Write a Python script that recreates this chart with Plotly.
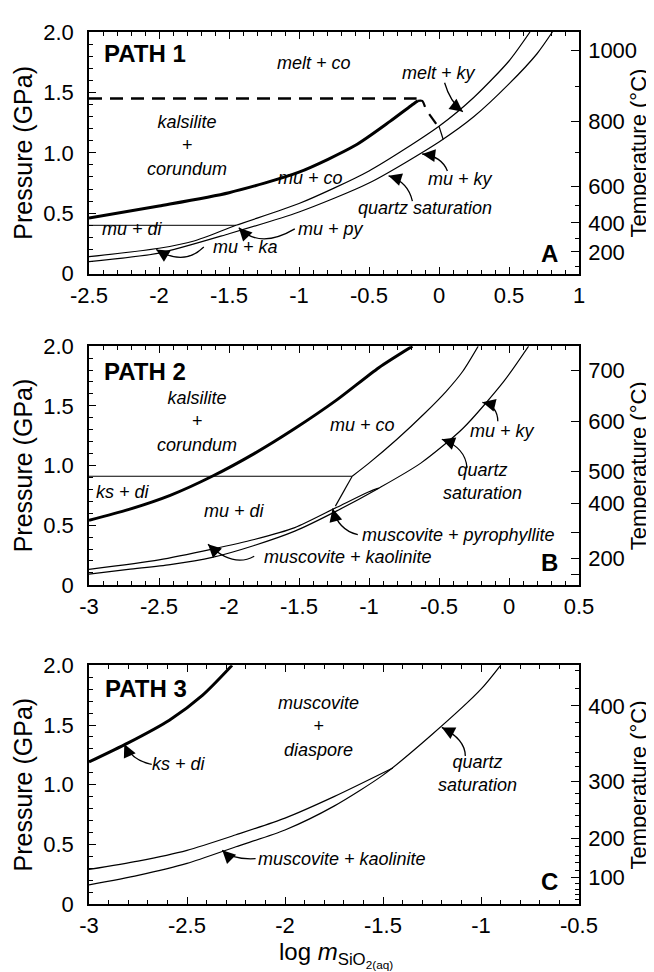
import math
import plotly.graph_objects as go

FONT = "Liberation Sans"

# ---------------- shared tick labels ----------------
P_TICKS = [0, 0.5, 1.0, 1.5, 2.0]
P_TICKTEXT = ["0", "0.5", "1.0", "1.5", "2.0"]

# ---------------- Panel A (PATH 1) ----------------
A_XTICKS = [-2.5, -2, -1.5, -1, -0.5, 0, 0.5, 1]
A_XTICKTEXT = ["-2.5", "-2", "-1.5", "-1", "-0.5", "0", "0.5", "1"]
A_T_LABEL_P = [1.85, 1.26, 0.72, 0.42, 0.18]
A_T_LABELS = ["1000", "800", "600", "400", "200"]
A_T_MINOR_P = [1.55, 1.00, 0.56, 0.29, 0.06]

A_kc_x = [-2.5, -2.0, -1.5, -1.0, -0.6, -0.35, -0.2, -0.15]
A_kc_p = [0.46, 0.56, 0.67, 0.84, 1.06, 1.26, 1.39, 1.43]
A_kink_x = [-0.15, -0.12, -0.10]
A_kink_p = [1.43, 1.43, 1.38]
A_melt_dash_x = [-2.5, -0.16]
A_melt_dash_p = [1.45, 1.45]
A_melt_dash2_x = [-0.07, -0.02]
A_melt_dash2_p = [1.32, 1.24]
A_melt_ky_x = [0.0, 0.03]
A_melt_ky_p = [1.22, 1.11]
A_di_x = [-2.5, -1.45]
A_di_p = [0.40, 0.40]
A_up_x = [-2.5, -2.0, -1.75, -1.45, -1.0, -0.5, 0.0, 0.25, 0.5, 0.65]
A_up_p = [0.14, 0.21, 0.27, 0.40, 0.58, 0.85, 1.22, 1.46, 1.76, 2.0]
A_qz_x = [-2.5, -2.0, -1.5, -1.0, -0.5, 0.0, 0.25, 0.5, 0.7, 0.81]
A_qz_p = [0.10, 0.17, 0.33, 0.51, 0.75, 1.09, 1.30, 1.57, 1.82, 2.0]

# ---------------- Panel B (PATH 2) ----------------
B_XTICKS = [-3, -2.5, -2, -1.5, -1, -0.5, 0, 0.5]
B_XTICKTEXT = ["-3", "-2.5", "-2", "-1.5", "-1", "-0.5", "0", "0.5"]
B_T_TICK_P = [1.80, 1.37, 0.95, 0.68, 0.44, 0.22, 0.09]
B_T_TICKTEXT = ["700", "600", "500", "400", "", "200", ""]

B_kc_x = [-3, -2.72, -2.42, -2.12, -1.82, -1.53, -1.23, -0.93, -0.69]
B_kc_p = [0.54, 0.63, 0.75, 0.91, 1.10, 1.31, 1.55, 1.82, 2.0]
B_hz_x = [-3, -1.12]
B_hz_p = [0.91, 0.91]
B_diag_x = [-1.12, -1.24]
B_diag_p = [0.91, 0.66]
B_coky_x = [-1.12, -1.0, -0.8, -0.6, -0.45, -0.33, -0.22]
B_coky_p = [0.91, 1.02, 1.22, 1.44, 1.62, 1.79, 2.0]
B_qz_x = [-3, -2.72, -2.42, -2.12, -1.82, -1.53, -1.23, -0.93, -0.63, -0.33, -0.04, 0.14]
B_qz_p = [0.09, 0.13, 0.17, 0.23, 0.33, 0.45, 0.62, 0.81, 1.02, 1.31, 1.70, 2.0]
B_up_x = [-3, -2.5, -2.12, -1.82, -1.53, -1.23, -1.0, -0.93]
B_up_p = [0.13, 0.21, 0.30, 0.38, 0.48, 0.65, 0.78, 0.81]

# ---------------- Panel C (PATH 3) ----------------
C_XTICKS = [-3, -2.5, -2, -1.5, -1, -0.5]
C_XTICKTEXT = ["-3", "-2.5", "-2", "-1.5", "-1", "-0.5"]
C_T_LABEL_P = [1.66, 1.03, 0.55, 0.22]
C_T_LABELS = ["400", "300", "200", "100"]
C_T_MINOR_P = [1.96, 1.81, 1.52, 1.40, 1.27, 1.15, 0.93, 0.84, 0.74, 0.65,
               0.48, 0.41, 0.35, 0.28, 0.17, 0.12, 0.08, 0.04]

C_kd_x = [-3, -2.8, -2.59, -2.42, -2.27]
C_kd_p = [1.19, 1.35, 1.54, 1.75, 2.0]
C_up_x = [-3, -2.75, -2.5, -2.25, -2.0, -1.75, -1.45]
C_up_p = [0.29, 0.36, 0.45, 0.58, 0.72, 0.90, 1.14]
C_qz_x = [-3, -2.75, -2.5, -2.25, -2.0, -1.75, -1.5, -1.25, -1.0, -0.9]
C_qz_p = [0.16, 0.24, 0.34, 0.48, 0.62, 0.82, 1.08, 1.42, 1.80, 2.0]

fig = go.Figure()


def line(x, y, xa, ya, width=1.2, dash=None, spline=True):
    fig.add_trace(go.Scatter(
        x=x, y=y, xaxis=xa, yaxis=ya, mode="lines",
        line=dict(color="black", width=width, dash=dash,
                  shape="spline" if spline else "linear", smoothing=0.7),
        hoverinfo="skip", showlegend=False))


# Panel A
line(A_kc_x, A_kc_p, "x", "y", width=3)
line(A_kink_x, A_kink_p, "x", "y", width=2.2)
line(A_melt_dash_x, A_melt_dash_p, "x", "y", width=2.4, dash="13px,8px", spline=False)
line(A_melt_dash2_x, A_melt_dash2_p, "x", "y", width=2.2, spline=False)
line(A_melt_ky_x, A_melt_ky_p, "x", "y", width=1.2, spline=False)
line(A_di_x, A_di_p, "x", "y", width=1.0, spline=False)
line(A_up_x, A_up_p, "x", "y")
line(A_qz_x, A_qz_p, "x", "y")
fig.add_trace(go.Scatter(x=[None], y=[None], xaxis="x", yaxis="y4", showlegend=False))

# Panel B
line(B_kc_x, B_kc_p, "x2", "y2", width=3)
line(B_hz_x, B_hz_p, "x2", "y2", width=1.2, spline=False)
line(B_diag_x, B_diag_p, "x2", "y2", width=1.2, spline=False)
line(B_coky_x, B_coky_p, "x2", "y2")
line(B_qz_x, B_qz_p, "x2", "y2")
line(B_up_x, B_up_p, "x2", "y2")
fig.add_trace(go.Scatter(x=[None], y=[None], xaxis="x2", yaxis="y5", showlegend=False))

# Panel C
line(C_kd_x, C_kd_p, "x3", "y3", width=3)
line(C_up_x, C_up_p, "x3", "y3")
line(C_qz_x, C_qz_p, "x3", "y3")
fig.add_trace(go.Scatter(x=[None], y=[None], xaxis="x3", yaxis="y6", showlegend=False))

# ---------------- axes ----------------
TICKFONT = dict(family=FONT, size=22, color="black")
doms = {1: [0.7229, 1.0], 2: [0.366, 0.6397], 3: [0.0, 0.2737]}
xr = {1: [-2.5, 1], 2: [-3, 0.5], 3: [-3, -0.5]}
xt = {1: (A_XTICKS, A_XTICKTEXT), 2: (B_XTICKS, B_XTICKTEXT), 3: (C_XTICKS, C_XTICKTEXT)}
MARGIN = dict(l=81, r=83, t=19, b=76)
FIG_W, FIG_H = 654, 972

layout = dict(
    width=FIG_W, height=FIG_H, paper_bgcolor="white", plot_bgcolor="white",
    margin=MARGIN, showlegend=False,
    font=dict(family=FONT, color="black"),
)
for i in (1, 2, 3):
    sx = "" if i == 1 else str(i)
    layout["xaxis" + sx] = dict(
        domain=[0, 1], anchor="y" + sx, range=xr[i], showgrid=False, zeroline=False,
        showline=True, linecolor="black", linewidth=1.5, mirror="ticks",
        ticks="inside", ticklen=7, tickwidth=1.2, tickcolor="black",
        tickmode="array", tickvals=xt[i][0], ticktext=xt[i][1], tickfont=TICKFONT,
        ticklabelstandoff=1,
        minor=dict(ticks="inside", ticklen=4, tickwidth=1, tickcolor="black", dtick=0.1, tick0=0),
    )
    layout["yaxis" + sx] = dict(
        domain=doms[i], anchor="x" + sx, range=[0, 2], showgrid=False, zeroline=False,
        showline=True, linecolor="black", linewidth=1.5, mirror=True,
        ticks="inside", ticklen=7, tickwidth=1.2, tickcolor="black",
        tickmode="array", tickvals=P_TICKS, ticktext=P_TICKTEXT, tickfont=TICKFONT,
        ticklabelstandoff=9,
        minor=dict(ticks="inside", ticklen=4, tickwidth=1, tickcolor="black", dtick=0.1, tick0=0),
    )

tA = dict(tickvals=A_T_LABEL_P, ticktext=A_T_LABELS,
          minor=dict(ticks="inside", ticklen=4, tickwidth=1, tickcolor="black",
                     tickmode="array", tickvals=A_T_MINOR_P))
tB = dict(tickvals=B_T_TICK_P, ticktext=B_T_TICKTEXT)
tC = dict(tickvals=C_T_LABEL_P, ticktext=C_T_LABELS,
          minor=dict(ticks="inside", ticklen=4, tickwidth=1, tickcolor="black",
                     tickmode="array", tickvals=C_T_MINOR_P))
for n, base, tcfg in ((4, 1, tA), (5, 2, tB), (6, 3, tC)):
    bx = "x" if base == 1 else "x" + str(base)
    by = "y" if base == 1 else "y" + str(base)
    d = dict(overlaying=by, anchor=bx, side="right", range=[0, 2], showgrid=False,
             zeroline=False, showline=True, linecolor="black", linewidth=1.5,
             ticks="inside", ticklen=8, tickwidth=1.2, tickcolor="black",
             tickmode="array", tickfont=dict(family=FONT, size=22, color="black"),
             ticklabelstandoff=3)
    d.update(tcfg)
    layout["yaxis" + str(n)] = d

fig.update_layout(**layout)

# pixel scale of each panel (for orienting arrow heads along the curve)
plot_w = FIG_W - MARGIN["l"] - MARGIN["r"]
plot_h = FIG_H - MARGIN["t"] - MARGIN["b"]
scale = {}
for i, (xa, ya) in enumerate((("x", "y"), ("x2", "y2"), ("x3", "y3")), start=1):
    sxp = plot_w / (xr[i][1] - xr[i][0])
    syp = plot_h * (doms[i][1] - doms[i][0]) / 2.0
    scale[xa] = (sxp, syp)

# ---------------- annotations & arrow shafts ----------------
ann = []
shapes = []


def label(xa, ya, x, y, text, size=18, bold=False, italic=True, align="center"):
    t = text
    if italic:
        t = "<i>" + t + "</i>"
    if bold:
        t = "<b>" + t + "</b>"
    ann.append(dict(xref=xa, yref=ya, x=x, y=y, text=t, showarrow=False,
                    font=dict(family=FONT, size=size, color="black"), align=align))


def arrow(xa, ya, tip, ctrl, tail):
    # curved shaft (quadratic Bezier in data coordinates)
    shapes.append(dict(type="path", xref=xa, yref=ya,
                       path="M %g,%g Q %g,%g %g,%g" % (tail[0], tail[1], ctrl[0], ctrl[1], tip[0], tip[1]),
                       line=dict(color="black", width=1.3)))
    # arrow head along the tangent at the tip (fixed pixel length)
    sxp, syp = scale[xa]
    dx = (ctrl[0] - tip[0]) * sxp
    dy = -(ctrl[1] - tip[1]) * syp
    n = math.hypot(dx, dy) or 1.0
    L = 11.0
    ann.append(dict(xref=xa, yref=ya, x=tip[0], y=tip[1],
                    ax=dx / n * L, ay=dy / n * L, text="", showarrow=True,
                    arrowhead=2, arrowsize=2.0, arrowwidth=1.3, arrowcolor="black",
                    standoff=0, startstandoff=0))


# Panel A
label("x", "y", -2.10, 1.82, "PATH 1", size=24, bold=True, italic=False)
label("x", "y", -0.89, 1.74, "melt + co")
label("x", "y", 0.0, 1.66, "melt + ky")
label("x", "y", -1.80, 1.06, "kalsilite<br>+<br>corundum")
label("x", "y", -0.92, 0.79, "mu + co")
label("x", "y", 0.15, 0.78, "mu + ky")
label("x", "y", -0.10, 0.54, "quartz saturation")
label("x", "y", -2.19, 0.37, "mu + di")
label("x", "y", -0.77, 0.37, "mu + py")
label("x", "y", -1.38, 0.22, "mu + ka")
label("x", "y", 0.79, 0.17, "A", size=24, bold=True, italic=False)
arrow("x", "y", (0.17, 1.34), (0.08, 1.42), (0.04, 1.58))
arrow("x", "y", (-0.12, 0.99), (0.02, 0.97), (0.06, 0.85))
arrow("x", "y", (-0.36, 0.81), (-0.22, 0.76), (-0.19, 0.60))
arrow("x", "y", (-1.43, 0.38), (-1.28, 0.20), (-1.03, 0.37))
arrow("x", "y", (-2.02, 0.20), (-1.82, 0.06), (-1.68, 0.22))

# Panel B
label("x2", "y2", -2.60, 1.79, "PATH 2", size=24, bold=True, italic=False)
label("x2", "y2", -2.23, 1.37, "kalsilite<br>+<br>corundum")
label("x2", "y2", -1.05, 1.34, "mu + co")
label("x2", "y2", -0.05, 1.29, "mu + ky")
label("x2", "y2", -0.19, 0.87, "quartz<br>saturation")
label("x2", "y2", -2.76, 0.78, "ks + di")
label("x2", "y2", -1.96, 0.62, "mu + di")
label("x2", "y2", -0.36, 0.42, "muscovite + pyrophyllite")
label("x2", "y2", -1.15, 0.23, "muscovite + kaolinite")
label("x2", "y2", 0.29, 0.19, "B", size=24, bold=True, italic=False)
arrow("x2", "y2", (-0.19, 1.53), (-0.08, 1.50), (-0.08, 1.37))
arrow("x2", "y2", (-0.48, 1.22), (-0.31, 1.15), (-0.30, 0.98))
arrow("x2", "y2", (-1.26, 0.64), (-1.22, 0.46), (-1.08, 0.42))
arrow("x2", "y2", (-2.15, 0.34), (-1.97, 0.14), (-1.82, 0.24))

# Panel C
label("x3", "y3", -2.71, 1.81, "PATH 3", size=24, bold=True, italic=False)
label("x3", "y3", -1.83, 1.49, "muscovite<br>+<br>diaspore")
label("x3", "y3", -1.02, 1.09, "quartz<br>saturation")
label("x3", "y3", -2.54, 1.17, "ks + di")
label("x3", "y3", -1.71, 0.38, "muscovite + kaolinite")
label("x3", "y3", -0.65, 0.19, "C", size=24, bold=True, italic=False)
arrow("x3", "y3", (-2.82, 1.34), (-2.78, 1.20), (-2.68, 1.17))
arrow("x3", "y3", (-1.20, 1.48), (-1.08, 1.38), (-1.08, 1.24))
arrow("x3", "y3", (-2.32, 0.45), (-2.27, 0.37), (-2.15, 0.38))

# axis titles
for dom in doms.values():
    yc = (dom[0] + dom[1]) / 2
    ann.append(dict(xref="paper", yref="paper", x=-0.135, y=yc, text="Pressure (GPa)",
                    textangle=-90, showarrow=False, xanchor="center", yanchor="middle",
                    font=dict(family=FONT, size=25, color="black")))
    ann.append(dict(xref="paper", yref="paper", x=1.122, y=yc, text="Temperature (°C)",
                    textangle=-90, showarrow=False, xanchor="center", yanchor="middle",
                    font=dict(family=FONT, size=22, color="black")))
ann.append(dict(xref="paper", yref="paper", x=0.505, y=-0.058,
                text="log <i>m</i><sub>SiO<sub>2(aq)</sub></sub>", showarrow=False,
                xanchor="center", yanchor="middle",
                font=dict(family=FONT, size=24, color="black")))

fig.update_layout(annotations=ann, shapes=shapes)
fig.write_html("out.html")
